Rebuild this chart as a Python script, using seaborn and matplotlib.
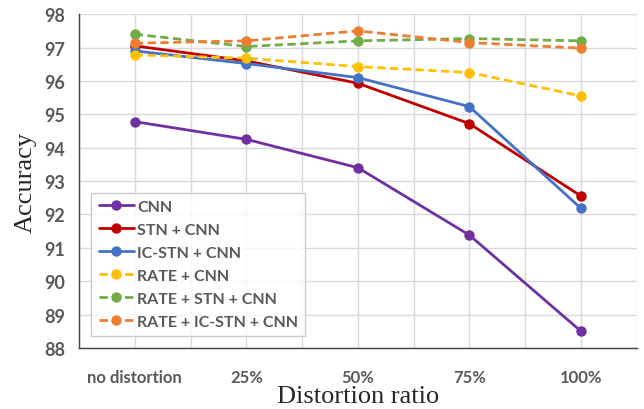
import matplotlib
matplotlib.use("Agg")
import matplotlib.pyplot as plt
import seaborn as sns
import pandas as pd
import numpy as np

categories = ["no distortion", "25%", "50%", "75%", "100%"]
cnn = [94.78, 94.25, 93.40, 91.38, 88.50]
stn_cnn = [97.05, 96.60, 95.93, 94.72, 92.55]
icstn_cnn = [96.90, 96.52, 96.10, 95.23, 92.18]
rate_cnn = [96.78, 96.68, 96.43, 96.25, 95.55]
rate_stn_cnn = [97.40, 97.03, 97.20, 97.27, 97.20]
rate_icstn_cnn = [97.13, 97.20, 97.50, 97.15, 96.98]

series_names = ["CNN", "STN + CNN", "IC-STN + CNN", "RATE + CNN",
                "RATE + STN + CNN", "RATE + IC-STN + CNN"]
series_values = [cnn, stn_cnn, icstn_cnn, rate_cnn, rate_stn_cnn, rate_icstn_cnn]
colors = ["#7030A0", "#C00000", "#4472C4", "#FFC000", "#70AD47", "#ED7D31"]
dashed = [False, False, False, True, True, True]

sns.set_style("white")
fig = plt.figure(figsize=(6.44, 4.10), dpi=100)
ax = fig.add_axes([0.1227, 0.149, 0.866, 0.814])

x_pos = np.arange(len(categories))
for name, vals, col, dsh in zip(series_names, series_values, colors, dashed):
    df = pd.DataFrame({"x": x_pos, "y": vals})
    sns.lineplot(data=df, x="x", y="y", ax=ax, color=col, linewidth=2.0,
                 marker="o", markersize=7.5, markeredgewidth=0,
                 linestyle=(0, (3, 1.6)) if dsh else "-", label=name)

ax.set_xlim(-0.5, 4.5)
ax.set_ylim(88, 98)
ax.set_xticks(x_pos)
ax.set_xticklabels(categories)
ax.set_xticks(np.arange(-0.5, 4.6, 0.5), minor=True)
ax.set_yticks(np.arange(88, 99, 1))

ax.grid(True, which="both", axis="x", color="#D9D9D9", linewidth=1.0)
ax.grid(True, which="major", axis="y", color="#D9D9D9", linewidth=1.0)
ax.set_axisbelow(True)

for side in ["top", "right"]:
    ax.spines[side].set_visible(False)
ax.spines["left"].set_color("#404040")
ax.spines["bottom"].set_color("#404040")
ax.spines["left"].set_linewidth(1.0)
ax.spines["bottom"].set_linewidth(1.0)

ax.tick_params(axis="both", which="both", length=0)
ax.tick_params(axis="x", pad=15)
ax.tick_params(axis="y", pad=10)
for lbl in ax.get_xticklabels():
    lbl.set_fontfamily("Lato")
    lbl.set_fontweight("bold")
    lbl.set_color("#595959")
    lbl.set_fontsize(12)
for lbl in ax.get_yticklabels():
    lbl.set_fontfamily("Lato")
    lbl.set_fontweight("bold")
    lbl.set_color("#595959")
    lbl.set_fontsize(13)

ax.set_xlabel("Distortion ratio", fontfamily="Liberation Serif", fontsize=19, labelpad=0)
ax.set_ylabel("Accuracy", fontfamily="Liberation Serif", fontsize=19, labelpad=5)

leg = ax.legend(loc="lower left", bbox_to_anchor=(0.008, 0.012), frameon=True,
                fancybox=False, edgecolor="#BFBFBF", handlelength=2.2,
                handletextpad=0.2, labelspacing=0.55, borderpad=0.45,
                prop={"family": "Lato", "weight": "bold", "size": 11.5})
for t in leg.get_texts():
    t.set_color("#595959")
leg.get_frame().set_linewidth(1.0)

fig.savefig("out.png", dpi=100)
